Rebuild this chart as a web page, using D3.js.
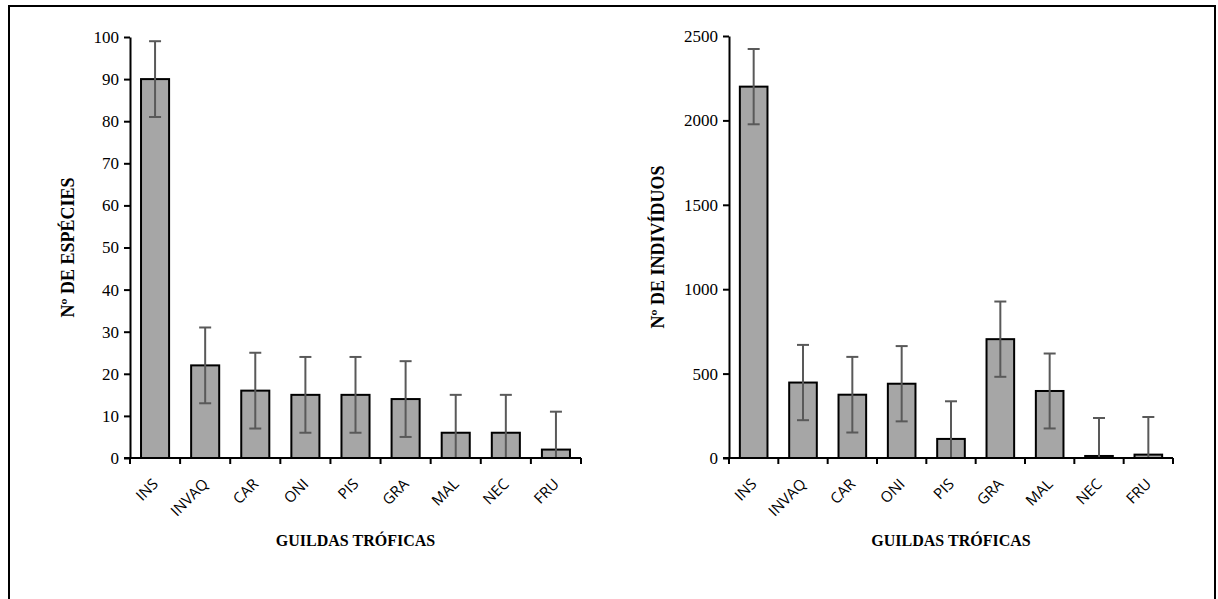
<!DOCTYPE html>
<html>
<head>
<meta charset="utf-8">
<script src="https://cdn.jsdelivr.net/npm/d3@7"></script>
<style>
  html, body { margin: 0; padding: 0; background: #fff; }
  svg { display: block; }
</style>
</head>
<body>
<svg id="chart" width="1218" height="599"></svg>
<script>
// ---- data ----
const categories = ["INS", "INVAQ", "CAR", "ONI", "PIS", "GRA", "MAL", "NEC", "FRU"];
const especies = [90, 22, 16, 15, 15, 14, 6, 6, 2];
const especiesErr = [9, 9, 9, 9, 9, 9, 9, 9, 9];
const individuos = [2200, 447, 375, 440, 113, 704, 397, 12, 20];
const individuosErr = [223, 223, 224, 223, 223, 223, 222, 225, 223];
const especiesTicks = [0, 10, 20, 30, 40, 50, 60, 70, 80, 90, 100];
const individuosTicks = [0, 500, 1000, 1500, 2000, 2500];
const xTitle = "GUILDAS TRÓFICAS";
const yTitleLeft = "Nº DE ESPÉCIES";
const yTitleRight = "Nº DE INDIVÍDUOS";

const svg = d3.select("#chart");

// outer frame
svg.append("rect")
  .attr("x", 9).attr("y", 6)
  .attr("width", 1206).attr("height", 620)
  .attr("fill", "none").attr("stroke", "#000").attr("stroke-width", 2);

function drawPanel(cfg) {
  const g = svg.append("g");
  const x = d3.scaleBand().domain(categories)
    .range([cfg.x0, cfg.x1]).paddingInner(0.44).paddingOuter(0.22);
  const y = d3.scaleLinear().domain(cfg.domain).range([cfg.yBottom, cfg.yTop]);

  // bars
  g.selectAll("rect.bar").data(categories).enter().append("rect")
    .attr("x", d => x(d))
    .attr("y", (d, i) => y(cfg.values[i]))
    .attr("width", x.bandwidth())
    .attr("height", (d, i) => y(0) - y(cfg.values[i]))
    .attr("fill", "#a6a6a6").attr("stroke", "#000").attr("stroke-width", 2);

  // error bars
  const cap = 6;
  categories.forEach((c, i) => {
    const cx = x(c) + x.bandwidth() / 2;
    const hi = cfg.values[i] + cfg.errors[i];
    const loRaw = cfg.values[i] - cfg.errors[i];
    const lo = Math.max(0, loRaw);
    g.append("line").attr("x1", cx).attr("x2", cx)
      .attr("y1", y(hi)).attr("y2", y(lo))
      .attr("stroke", "#595959").attr("stroke-width", 2);
    g.append("line").attr("x1", cx - cap).attr("x2", cx + cap)
      .attr("y1", y(hi)).attr("y2", y(hi))
      .attr("stroke", "#595959").attr("stroke-width", 2);
    if (loRaw >= 0) {
      g.append("line").attr("x1", cx - cap).attr("x2", cx + cap)
        .attr("y1", y(lo)).attr("y2", y(lo))
        .attr("stroke", "#595959").attr("stroke-width", 2);
    }
  });

  // y axis
  const yAxis = g.append("g")
    .attr("transform", `translate(${cfg.x0},0)`)
    .call(d3.axisLeft(y).tickValues(cfg.ticks).tickSize(6).tickSizeOuter(0).tickPadding(5)
      .tickFormat(d3.format("d")));
  yAxis.select(".domain").attr("stroke", "#000").attr("stroke-width", 2);
  yAxis.selectAll(".tick line").attr("stroke", "#000").attr("stroke-width", 2);
  yAxis.selectAll(".tick text")
    .attr("font-family", "'Liberation Serif', 'Times New Roman', serif")
    .attr("font-size", 17).attr("fill", "#000");

  // x axis line
  g.append("line").attr("x1", cfg.x0 - 6).attr("x2", cfg.x1)
    .attr("y1", y(0)).attr("y2", y(0))
    .attr("stroke", "#000").attr("stroke-width", 2);
  // x ticks at band boundaries
  const step = x.step();
  const bounds = categories.map(c => x(c) - step * x.paddingInner() / 2);
  bounds.push(cfg.x1);
  g.selectAll("line.xt").data(bounds).enter().append("line")
    .attr("x1", d => d).attr("x2", d => d)
    .attr("y1", y(0)).attr("y2", y(0) + 6)
    .attr("stroke", "#000").attr("stroke-width", 2);

  // category labels
  g.selectAll("text.cat").data(categories).enter().append("text")
    .attr("transform", d => `translate(${x(d) + x.bandwidth() / 2 + 4},${y(0) + 27}) rotate(-45)`)
    .attr("text-anchor", "end")
    .attr("font-family", "'Open Sans', 'DejaVu Sans', sans-serif")
    .attr("font-size", 15).attr("fill", "#000")
    .text(d => d);

  // x title
  g.append("text")
    .attr("x", (cfg.x0 + cfg.x1) / 2).attr("y", 546)
    .attr("text-anchor", "middle")
    .attr("font-family", "'Liberation Serif', 'Times New Roman', serif")
    .attr("font-weight", "bold").attr("font-size", 16)
    .text(xTitle);

  // y title
  g.append("text")
    .attr("transform", `translate(${cfg.yTitleX},${(cfg.yTop + cfg.yBottom) / 2}) rotate(-90)`)
    .attr("text-anchor", "middle")
    .attr("font-family", "'Liberation Serif', 'Times New Roman', serif")
    .attr("font-weight", "bold").attr("font-size", 18)
    .text(cfg.yTitle);
}

drawPanel({
  x0: 130, x1: 581, yTop: 37, yBottom: 458,
  domain: [0, 100], ticks: especiesTicks,
  values: especies, errors: especiesErr,
  yTitle: yTitleLeft, yTitleX: 74
});

drawPanel({
  x0: 729, x1: 1173, yTop: 36, yBottom: 458,
  domain: [0, 2500], ticks: individuosTicks,
  values: individuos, errors: individuosErr,
  yTitle: yTitleRight, yTitleX: 664
});
</script>
</body>
</html>
